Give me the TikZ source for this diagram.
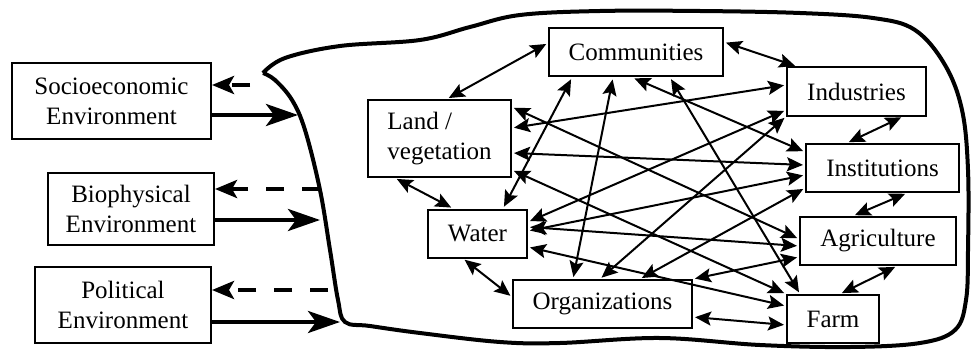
\documentclass[tikz,border=0pt]{standalone}
\usepackage{fontspec}
\setmainfont{Liberation Serif}
\usetikzlibrary{arrows.meta,calc}

\begin{document}
\begin{tikzpicture}[
        x=0.5pt, y=-0.5pt,
        font=\fontsize{12.5}{15}\selectfont,
        >={Stealth[length=8pt,width=7pt,inset=1.5pt]},
        % Box styles
        envbox/.style={
            rectangle,
            draw=black,
            line width=1pt,
            align=center,
            inner sep=2pt
        },
        sysbox/.style={
            rectangle,
            draw=black,
            line width=1pt,
            align=center,
            inner sep=2pt,
            minimum height=24pt
        },
        link/.style={<->, line width=1pt, shorten <=1pt, shorten >=1pt},
        impact/.style={-{Stealth[length=16pt,width=11pt,inset=4pt]}, line width=2pt},
        feedback/.style={-{Stealth[length=11pt,width=9pt,inset=2.5pt]}, line width=2pt, dash pattern=on 9pt off 9pt},
        border/.style={line width=2pt, line join=round}
    ]
    \useasboundingbox (0,0) rectangle (973,353);

    % System boundary
    \draw[border] plot[smooth, tension=0.6] coordinates {
        (263,73) (285,58) (340,46) (420,40) (470,27) (520,15) (600,11)
        (700,11) (800,13) (873,18) (915,30) (945,65) (962,110) (968,170)
        (968,250) (966,300) (955,330) (920,343) (850,347) (760,345)
        (660,338) (560,343) (500,342) (420,333) (370,326) (345,322)
        (338,300) (330,250) (320,190) (305,130) (292,100) (275,80) (263,73)};

    % Environments
    \node[envbox, minimum width=99.5pt, minimum height=38pt] (socio) at (111.5,101) {Socioeconomic\\Environment};
    \node[envbox, minimum width=83pt, minimum height=36pt] (bio) at (131,209) {Biophysical\\Environment};
    \node[envbox, minimum width=88pt, minimum height=38pt] (poli) at (123,305) {Political\\Environment};

    % Components of the system
    \node[sysbox, minimum width=87pt] (comm) at (636,52.5) {Communities};
    \node[sysbox, minimum width=69.5pt] (ind) at (856.5,91.5) {Industries};
    \node[sysbox, minimum width=76.5pt] (inst) at (882.5,168) {Institutions};
    \node[sysbox, minimum width=78pt] (agr) at (878,241) {Agriculture};
    \node[sysbox, minimum width=46pt] (farm) at (833,319) {Farm};
    \node[sysbox, minimum width=89.5pt] (org) at (602.5,304) {Organizations};
    \node[sysbox, minimum width=49.5pt] (water) at (477.5,233.5) {Water};
    \node[sysbox, minimum width=71.5pt, minimum height=38.5pt, align=left] (land) at (439.5,138.5) {Land /\\vegetation};

    % Boundary points
    \coordinate (socio-in) at (298,115);
    \coordinate (socio-out) at (250,85);
    \coordinate (bio-in) at (320,220);
    \coordinate (bio-out) at (320,189);
    \coordinate (poli-in) at (340,322);
    \coordinate (poli-out) at (328,290);

    % Environment <-> system
    \draw[impact] ([yshift=-7pt]socio.east) -- (socio-in);
    \draw[feedback] (socio-out) -- ([yshift=8pt]socio.east);
    \draw[impact] ([yshift=-5.5pt]bio.east) -- (bio-in);
    \draw[feedback] (bio-out) -- ([yshift=10pt]bio.east);
    \draw[impact] ([yshift=-8.5pt]poli.east) -- (poli-in);
    \draw[feedback] (poli-out) -- ([yshift=7.5pt]poli.east);

    % Links inside the system
    \draw[link] ([yshift=4.75pt]comm.west) -- ([xshift=3.75pt]land.north);
    \draw[link] ([yshift=5.25pt]comm.east) -- ([xshift=5.5pt]ind.north west);
    \draw[link] ([xshift=23.25pt]ind.south) -- ([xshift=-17.75pt]inst.north);
    \draw[link] ([xshift=12.25pt]inst.south) -- ([xshift=-12.5pt]agr.north);
    \draw[link] ([xshift=9.5pt]agr.south) -- ([xshift=3.5pt]farm.north);
    \draw[link] ([yshift=-6.5pt]org.east) -- ([yshift=-3pt]farm.west);
    \draw[link] ([xshift=-7.25pt]water.south) -- ([yshift=3.5pt]org.west);
    \draw[link] ([xshift=-22.25pt]land.south) -- ([xshift=-12.25pt]water.north);
    \draw[link] ([xshift=-32pt]comm.south) -- ([xshift=12.75pt]water.north);
    \draw[link] ([xshift=-11.5pt]comm.south) -- ([xshift=-14.75pt]org.north);
    \draw[link] ([xshift=-1.75pt]comm.south) -- ([yshift=8pt]inst.west);
    \draw[link] ([xshift=17pt]comm.south) -- ([xshift=-16.5pt]farm.north);
    \draw[link] ([yshift=5.25pt]land.east) -- ([yshift=3.25pt]ind.west);
    \draw[link] ([yshift=-7.25pt]land.east) -- ([yshift=1.5pt]inst.west);
    \draw[link] ([yshift=15.75pt]land.east) -- ([yshift=1pt]agr.west);
    \draw[link] ([yshift=-15.75pt]land.east) -- (farm.north west);
    \draw[link] ([yshift=5.75pt]water.east) -- ([yshift=-9.25pt]ind.west);
    \draw[link] ([yshift=1.25pt]water.east) -- ([yshift=-3.5pt]inst.west);
    \draw[link] ([yshift=3.25pt]water.east) -- ([yshift=-2.5pt]agr.west);
    \draw[link] ([yshift=-6.75pt]water.east) -- ([yshift=6.5pt]farm.west);
    \draw[link] ([xshift=-1.25pt]org.north) -- (ind.south west);
    \draw[link] ([xshift=18.75pt]org.north) -- ([yshift=-10pt]inst.west);
    \draw[link] (org.north east) -- ([yshift=-8pt]agr.west);

\end{tikzpicture}
\end{document}
